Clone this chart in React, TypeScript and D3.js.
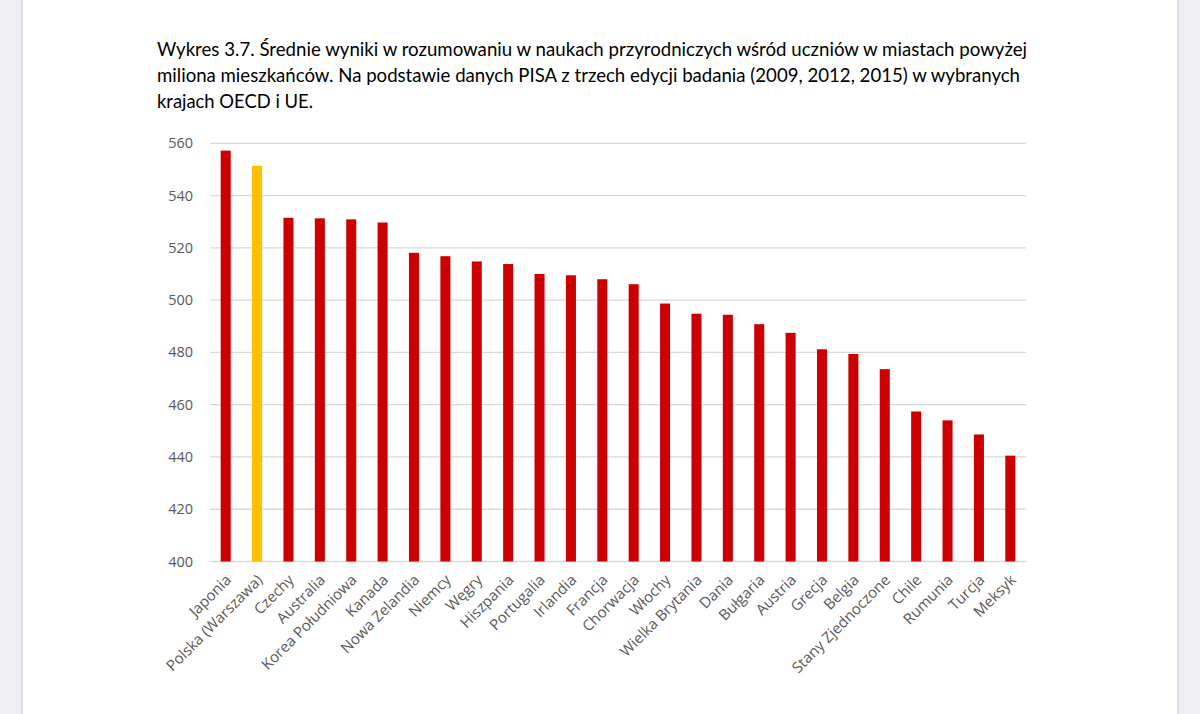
import React from "react";
import * as d3 from "d3";

const titleLines = [
  "Wykres 3.7. Średnie wyniki w rozumowaniu w naukach przyrodniczych wśród uczniów w miastach powyżej",
  "miliona mieszkańców. Na podstawie danych PISA z trzech edycji badania (2009, 2012, 2015) w wybranych",
  "krajach OECD i UE.",
];

const countries = [
  "Japonia", "Polska (Warszawa)", "Czechy", "Australia", "Korea Południowa", "Kanada",
  "Nowa Zelandia", "Niemcy", "Węgry", "Hiszpania", "Portugalia", "Irlandia", "Francja",
  "Chorwacja", "Włochy", "Wielka Brytania", "Dania", "Bułgaria", "Austria", "Grecja",
  "Belgia", "Stany Zjednoczone", "Chile", "Rumunia", "Turcja", "Meksyk",
];

const scores = [
  557.2, 551.4, 531.5, 531.3, 530.9, 529.7, 518.1, 516.8, 514.8, 513.8, 510.0, 509.5, 508.0,
  506.1, 498.7, 494.8, 494.4, 490.8, 487.5, 481.2, 479.4, 473.6, 457.4, 454.0, 448.6, 440.5,
];

const highlighted = ["Polska (Warszawa)"];

const yTicks = [400, 420, 440, 460, 480, 500, 520, 540, 560];

const W = 1200;
const H = 714;
const plot = { left: 210, right: 1026, top: 143.3, bottom: 561.5 };

export default function App() {
  const x = d3
    .scaleBand<string>()
    .domain(countries)
    .range([plot.left, plot.right])
    .paddingInner(0.68)
    .paddingOuter(0.34);
  const y = d3.scaleLinear().domain([400, 560]).range([plot.bottom, plot.top]);

  const titleWidths = [870, 863, 156];

  return (
    <svg
      width={W}
      height={H}
      style={{ position: "fixed", left: 0, top: 0, background: "#ffffff" }}
    >
      <rect x={0} y={0} width={W} height={H} fill="#ffffff" />
      <rect x={0} y={0} width={21} height={H} fill="#efeff3" />
      <rect x={21} y={0} width={2} height={H} fill="#dcdce2" />
      <rect x={1179} y={0} width={21} height={H} fill="#efeff3" />
      <rect x={1177} y={0} width={2} height={H} fill="#dcdce2" />

      {titleLines.map((t, i) => (
        <text
          key={i}
          x={157}
          y={56 + i * 26}
          fontFamily="Lato, 'Open Sans', sans-serif"
          fontSize={19}
          fill="#000000"
          textLength={titleWidths[i]}
          lengthAdjust="spacingAndGlyphs"
        >
          {t}
        </text>
      ))}

      {yTicks.map((t) => (
        <g key={t}>
          <line
            x1={plot.left}
            x2={plot.right}
            y1={y(t)}
            y2={y(t)}
            stroke="#d9d9d9"
            strokeWidth={1.3}
          />
          <text
            x={193}
            y={y(t)}
            dy="0.35em"
            textAnchor="end"
            fontFamily="'Open Sans', sans-serif"
            fontSize={14.5}
            fill="#595959"
          >
            {t}
          </text>
        </g>
      ))}

      {countries.map((c, i) => (
        <rect
          key={c}
          x={x(c)}
          y={y(scores[i])}
          width={x.bandwidth()}
          height={y(400) - y(scores[i])}
          fill={highlighted.includes(c) ? "#ffc000" : "#cc0000"}
        />
      ))}

      {countries.map((c) => {
        const cx = (x(c) as number) + x.bandwidth() / 2;
        return (
          <text
            key={c}
            transform={`translate(${cx - 1},${plot.bottom + 12}) rotate(-45)`}
            textAnchor="end"
            dy="0.7em"
            fontFamily="'Open Sans', sans-serif"
            fontSize={15}
            fill="#595959"
          >
            {c}
          </text>
        );
      })}
    </svg>
  );
}
